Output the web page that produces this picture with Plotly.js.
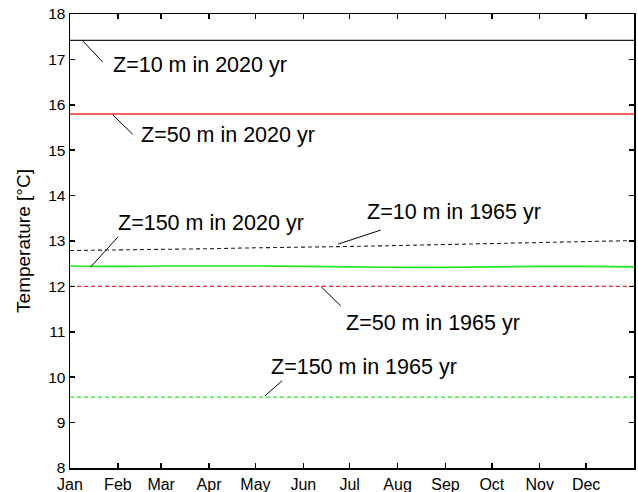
<!DOCTYPE html>
<html>
<head>
<meta charset="utf-8">
<script src="https://cdn.plot.ly/plotly-3.0.1.min.js"></script>
<style>html,body{margin:0;padding:0;background:#fff;}#chart{width:638px;height:492px;}</style>
</head>
<body>
<div id="chart"></div>
<script>
// Day-of-year positions (month starts + year end)
const days = [0, 31, 59, 90, 120, 151, 181, 212, 243, 273, 304, 334, 365];
const monthTickDays = [0, 31, 59, 90, 120, 151, 181, 212, 243, 273, 304, 334];
const monthLabels = ["Jan","Feb","Mar","Apr","May","Jun","Jul","Aug","Sep","Oct","Nov","Dec"];

// Temperatures [°C]
const z10_2020  = [17.42,17.42,17.42,17.42,17.42,17.42,17.42,17.42,17.42,17.42,17.42,17.42,17.42];
const z50_2020  = [15.80,15.80,15.80,15.80,15.80,15.80,15.80,15.80,15.80,15.80,15.80,15.80,15.80];
const z150_2020 = [12.45,12.44,12.45,12.45,12.45,12.44,12.43,12.42,12.42,12.43,12.44,12.44,12.43];
const z10_1965  = [12.79,12.80,12.82,12.83,12.85,12.86,12.88,12.90,12.92,12.94,12.96,12.98,13.01];
const z50_1965  = [12.00,12.00,12.00,12.00,12.00,12.00,12.00,12.00,12.00,12.00,12.00,12.00,12.00];
const z150_1965 = [9.56,9.56,9.56,9.56,9.56,9.56,9.56,9.56,9.56,9.56,9.56,9.56,9.56];

// Labels: [text, textX, textY, lineX0, lineY0, lineX1, lineY1]
const labels = [
  ["Z=10 m in 2020 yr",  26.5, 16.88,   8.2, 17.41,  21.2, 16.94],
  ["Z=50 m in 2020 yr",  44.6, 15.34,  27.6, 15.78,  40.6, 15.35],
  ["Z=150 m in 2020 yr", 29.5, 13.40,  13.4, 12.43,  31.1, 13.09],
  ["Z=10 m in 1965 yr", 191.1, 13.64, 173.4, 12.93, 201.1, 13.24],
  ["Z=50 m in 1965 yr", 177.1, 11.19, 162.6, 11.99, 175.2, 11.57],
  ["Z=150 m in 1965 yr",128.7, 10.22, 126.2,  9.59, 137.2,  9.92]
];

const green = "#22e822";
const red = "#ff2a2a";
const traces = [
  {x: days, y: z10_2020, mode: "lines", line: {color: "#222", width: 1.2}},
  {x: days, y: z50_2020, mode: "lines", line: {color: red, width: 1.5}},
  {x: days, y: z150_2020, mode: "lines", line: {color: green, width: 1.6, shape: "spline"}},
  {x: days, y: z10_1965, mode: "lines", line: {color: "#222", width: 1.1, dash: "4px,3px"}},
  {x: days, y: z50_1965, mode: "lines", line: {color: red, width: 1.2, dash: "4px,3px"}},
  {x: days, y: z150_1965, mode: "lines", line: {color: green, width: 1.3, dash: "4px,3px"}}
];

const fontFam = "Liberation Sans, Arial, sans-serif";
const annotations = labels.map(l => ({
  x: l[1], y: l[2], xref: "x", yref: "y", text: l[0], showarrow: false,
  xanchor: "left", yanchor: "middle", font: {family: fontFam, size: 21.5, color: "#000"}
}));
const shapes = labels.map(l => ({
  type: "line", xref: "x", yref: "y", x0: l[3], y0: l[4], x1: l[5], y1: l[6],
  line: {color: "#000", width: 1}
}));

const layout = {
  width: 638, height: 492,
  margin: {l: 70, r: 4, t: 14, b: 24},
  paper_bgcolor: "#fff", plot_bgcolor: "#fff",
  showlegend: false,
  font: {family: fontFam, size: 15, color: "#000"},
  xaxis: {
    range: [0, 365], tickmode: "array", tickvals: monthTickDays, ticktext: monthLabels,
    ticks: "inside", ticklen: 5, tickwidth: 1.5, tickcolor: "#000",
    showline: true, linecolor: "#000", linewidth: 1.5, mirror: "ticks",
    showgrid: false, zeroline: false, tickfont: {size: 16}, automargin: false,
    ticklabelstandoff: 1
  },
  yaxis: {
    range: [8, 18], dtick: 1, tick0: 8,
    ticks: "inside", ticklen: 5, tickwidth: 1.5, tickcolor: "#000",
    showline: true, linecolor: "#000", linewidth: 1.5, mirror: "ticks",
    showgrid: false, zeroline: false, tickfont: {size: 15.5}, automargin: false,
    title: {text: "Temperature [°C]", font: {size: 19}, standoff: 12}
  },
  annotations: annotations,
  shapes: shapes
};

Plotly.newPlot("chart", traces, layout, {displayModeBar: false, staticPlot: true});
</script>
</body>
</html>
